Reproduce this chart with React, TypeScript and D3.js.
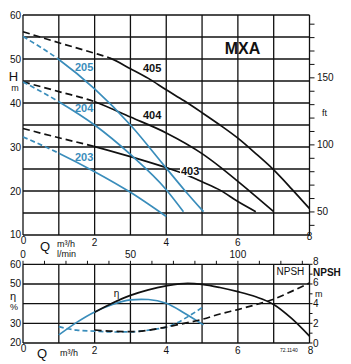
import React from "react";
import * as d3 from "d3";

// ---------- DATA ----------
// Top chart: H (m) vs Q (m³/h)
const q405 = [0, 1, 2, 2.43, 3, 3.5, 4, 4.5, 5, 5.5, 6, 6.5, 7, 7.5, 8];
const h405 = [56.2, 53.7, 51.3, 50.2, 47.8, 45.6, 43, 40.5, 37.8, 35, 32, 28.5, 24.8, 20.5, 16];
const q404 = [0, 1, 2, 3, 4, 5, 5.5, 6, 6.5, 7];
const h404 = [44.8, 42.6, 40.3, 36.8, 33.2, 28.5, 25.5, 22.2, 18.8, 15.3];
const q403 = [0, 1, 2, 3, 4, 4.5, 5, 5.5, 6, 6.5];
const h403 = [34.2, 32.1, 30.1, 27.8, 25.3, 23.9, 22.1, 20.2, 17.6, 15.3];
const q205 = [0, 1, 2, 3, 4, 4.5, 5.04];
const h205 = [55.1, 49.9, 43.2, 35, 25.2, 20.3, 15.3];
const q204 = [0, 1, 2, 3, 4, 4.48];
const h204 = [44.8, 40.3, 35, 28.3, 20.3, 15.3];
const q203 = [0, 1, 2, 3, 4];
const h203 = [32.3, 28.6, 24.4, 19.7, 14.2];

// Bottom chart: efficiency (%) and NPSH (m)
const qEta4 = [2, 2.5, 3, 3.5, 4, 4.6, 5, 5.5, 6, 6.5, 7, 7.5, 8];
const eta4 = [35.6, 40.3, 44.2, 47, 49, 50.3, 49.8, 48.2, 46.1, 43.5, 39.6, 32.5, 23.5];
const qNpsh4 = [2, 2.5, 3, 3.5, 4, 4.5, 5, 5.5, 6, 6.5, 7, 7.5, 8];
const npsh4 = [1.32, 1.2, 1.15, 1.3, 1.62, 2.0, 2.4, 2.95, 3.4, 3.9, 4.45, 5.25, 6.1];
const qEta2 = [1, 1.5, 2, 2.5, 3, 3.3, 3.5, 4, 4.5, 5.04];
const eta2 = [24.1, 30.5, 35.8, 39.6, 41.9, 42.2, 42.1, 40.2, 35.3, 29.2];
const qNpsh2 = [1, 1.5, 2, 2.5, 3, 3.5, 4, 4.25, 4.5, 5.04];
const npsh2 = [1.66, 1.3, 1.2, 1.12, 1.13, 1.3, 1.62, 1.95, 2.45, 3.7];

// Ticks
const qTicks = [0, 2, 4, 6, 8];
const hTicks = [10, 20, 30, 40, 50, 60];
const ftLabels = [50, 100, 150];
const lminLabels = [0, 50, 100];
const etaTicks = [20, 30, 40, 50, 60];
const npshTicks = [0, 2, 4, 6, 8];

// ---------- LAYOUT ----------
const BLACK = "#111";
const BLUE = "#3a8dbb";
const FONT = "'Liberation Sans', Arial, sans-serif";

const X = d3.scaleLinear().domain([0, 8]).range([23, 309.5]);
const YT = d3.scaleLinear().domain([10, 60]).range([235, 15]);
const YB = d3.scaleLinear().domain([20, 60]).range([343, 264.3]);
const YN = d3.scaleLinear().domain([0, 8]).range([343, 264.3]);

function pathOf(qs: number[], vs: number[], y: (v: number) => number) {
  const line = d3
    .line<number>()
    .x((_, i) => X(qs[i]))
    .y((v) => y(v))
    .curve(d3.curveMonotoneX);
  return line(vs) || "";
}

type CurveProps = {
  id: string;
  qs: number[];
  vs: number[];
  y: (v: number) => number;
  color: string;
  split?: number; // dashed up to this Q
  dash?: string;
  allDashed?: boolean;
};

function Curve({ id, qs, vs, y, color, split, dash, allDashed }: CurveProps) {
  const d = pathOf(qs, vs, y);
  if (allDashed) {
    return <path d={d} fill="none" stroke={color} strokeWidth={1.7} strokeDasharray={dash} />;
  }
  if (split === undefined) {
    return <path d={d} fill="none" stroke={color} strokeWidth={1.7} />;
  }
  const sx = X(split);
  return (
    <g>
      <clipPath id={`${id}-a`}>
        <rect x={0} y={0} width={sx} height={364} />
      </clipPath>
      <clipPath id={`${id}-b`}>
        <rect x={sx} y={0} width={351 - sx} height={364} />
      </clipPath>
      <path d={d} fill="none" stroke={color} strokeWidth={1.7} strokeDasharray={dash} clipPath={`url(#${id}-a)`} />
      <path d={d} fill="none" stroke={color} strokeWidth={1.7} clipPath={`url(#${id}-b)`} />
    </g>
  );
}

export default function App() {
  const gridQ = d3.range(0, 9);
  const gridH = d3.range(10, 61, 5);
  const ftMinor = d3.range(40, 200, 10);
  const lminMinor = d3.range(0, 140, 10);
  const gridEta = [30, 40, 50];
  const npshMinor = d3.range(0, 9, 1);
  const ftToY = (f: number) => YT(f / 3.2808);
  const npshLabelY = (n: number) => YN(n) + (n === 8 ? -3 : n === 6 ? -1.5 : 0);

  return (
    <svg
      width={351}
      height={364}
      viewBox="0 0 351 364"
      style={{ position: "absolute", left: 0, top: 0, background: "#fff" }}
      fontFamily={FONT}
    >
      <rect x={0} y={0} width={351} height={364} fill="#fff" />

      {/* ---------- TOP CHART ---------- */}
      <g stroke={BLACK} strokeWidth={1.3}>
        {gridQ.map((q) => (
          <line key={"tv" + q} x1={X(q)} x2={X(q)} y1={YT(60)} y2={YT(10)} />
        ))}
        {gridH.map((h) => (
          <line key={"th" + h} x1={X(0)} x2={X(8)} y1={YT(h)} y2={YT(h)} />
        ))}
        {ftMinor
          .filter((f) => f / 3.2808 >= 10 && f / 3.2808 <= 60)
          .map((f) => (
            <line key={"ft" + f} x1={X(8)} x2={X(8) + 5} y1={ftToY(f)} y2={ftToY(f)} strokeWidth={1} />
          ))}
      </g>

      {/* curves top */}
      <Curve id="c405" qs={q405} vs={h405} y={YT} color={BLACK} split={2.43} dash="7 4" />
      <Curve id="c404" qs={q404} vs={h404} y={YT} color={BLACK} split={2} dash="7 4" />
      <Curve id="c403" qs={q403} vs={h403} y={YT} color={BLACK} split={2} dash="7 4" />
      <Curve id="c205" qs={q205} vs={h205} y={YT} color={BLUE} split={1} dash="5 3" />
      <Curve id="c204" qs={q204} vs={h204} y={YT} color={BLUE} split={1} dash="5 3" />
      <Curve id="c203" qs={q203} vs={h203} y={YT} color={BLUE} split={1} dash="5 3" />

      {/* curve labels */}
      <g fontWeight="bold" fontSize={11}>
        <text x={75} y={67} dy="0.35em" fill={BLUE}>205</text>
        <text x={75} y={108} dy="0.35em" fill={BLUE}>204</text>
        <text x={75} y={157} dy="0.35em" fill={BLUE}>203</text>
        <text x={143} y={68} dy="0.35em" fill={BLACK}>405</text>
        <text x={143} y={115} dy="0.35em" fill={BLACK}>404</text>
        <rect x={180} y={165} width={19} height={11} fill="#fff" />
        <text x={181} y={171} dy="0.35em" fill={BLACK}>403</text>
      </g>

      <text x={242.5} y={48} dy="0.35em" textAnchor="middle" fontWeight="bold" fontSize={16} fill={BLACK}>MXA</text>

      {/* left axis labels top */}
      <g fontSize={10} fill={BLACK} textAnchor="end">
        {hTicks.map((h) => (
          <text key={"hl" + h} x={21} y={YT(h) - (h === 10 ? 1 : 0)} dy="0.35em">{h}</text>
        ))}
      </g>
      <text x={13.5} y={76} dy="0.35em" textAnchor="middle" fontSize={13} fill={BLACK}>H</text>
      <text x={15} y={88} dy="0.35em" textAnchor="middle" fontSize={9} fill={BLACK}>m</text>

      {/* right ft axis */}
      <g fontSize={10} fill={BLACK}>
        {ftLabels.map((f) => (
          <text key={"fl" + f} x={317} y={ftToY(f)} dy="0.35em">{f}</text>
        ))}
        <text x={322} y={113} dy="0.35em" fontSize={9}>ft</text>
      </g>

      {/* x axis labels top chart */}
      <g fontSize={10} fill={BLACK} textAnchor="middle">
        {qTicks.map((q) => (
          <text key={"ql" + q} x={X(q) + (q === 0 ? 0.5 : 0)} y={q === 0 ? 240 : q === 8 ? 236 : 242.5} dy="0.35em">{q}</text>
        ))}
        {lminLabels.map((l) => (
          <text key={"ll" + l} x={X(l * 0.06)} y={254.5} dy="0.35em">{l}</text>
        ))}
      </g>
      <text x={45} y={246.5} dy="0.35em" textAnchor="middle" fontSize={13} fill={BLACK}>Q</text>
      <text x={57} y={243.5} dy="0.35em" fontSize={9} fill={BLACK}>m³/h</text>
      <text x={57} y={254} dy="0.35em" fontSize={9} fill={BLACK}>l/min</text>

      {/* ---------- BOTTOM CHART ---------- */}
      <g stroke={BLACK} strokeWidth={1.3}>
        {gridQ.map((q) => (
          <line key={"bv" + q} x1={X(q)} x2={X(q)} y1={YB(60)} y2={YB(20)} />
        ))}
        {[20, ...gridEta, 60].map((e) => (
          <line key={"bh" + e} x1={X(0)} x2={X(8)} y1={YB(e)} y2={YB(e)} />
        ))}
        {lminMinor.map((l) => (
          <line key={"lt" + l} x1={X(l * 0.06)} x2={X(l * 0.06)} y1={YB(60)} y2={YB(60) - 3.5} strokeWidth={1} />
        ))}
        {npshMinor.map((n) => (
          <line key={"nt" + n} x1={X(8)} x2={X(8) + 3} y1={YN(n)} y2={YN(n)} strokeWidth={1} />
        ))}
      </g>

      <Curve id="e2" qs={qEta2} vs={eta2} y={YB} color={BLUE} />
      <Curve id="n2" qs={qNpsh2} vs={npsh2} y={YN} color={BLUE} allDashed dash="5 3" />
      <Curve id="e4" qs={qEta4} vs={eta4} y={YB} color={BLACK} />
      <Curve id="n4" qs={qNpsh4} vs={npsh4} y={YN} color={BLACK} allDashed dash="7 4" />

      <text x={116.5} y={293.5} dy="0.35em" textAnchor="middle" fontSize={10} fill={BLACK}>η</text>
      <text x={276.5} y={271} dy="0.35em" fontSize={10} fill={BLACK}>NPSH</text>

      {/* left axis bottom */}
      <g fontSize={10} fill={BLACK} textAnchor="end">
        {etaTicks.filter((e) => e !== 40).map((e) => (
          <text key={"el" + e} x={21} y={YB(e) - (e === 20 ? 1 : 0)} dy="0.35em">{e}</text>
        ))}
      </g>
      <text x={13} y={296} dy="0.35em" textAnchor="middle" fontSize={11} fill={BLACK}>η</text>
      <text x={14} y={307} dy="0.35em" textAnchor="middle" fontSize={9} fill={BLACK}>%</text>

      {/* right NPSH axis */}
      <g fontSize={10} fill={BLACK}>
        {npshTicks.map((n) => (
          <text key={"nl" + n} x={313} y={npshLabelY(n)} dy="0.35em">{n}</text>
        ))}
        <text x={313} y={272.5} dy="0.35em" fontWeight="bold" fontSize={10}>NPSH</text>
        <text x={315} y={293.5} dy="0.35em" fontSize={9}>m</text>
      </g>

      {/* bottom x axis */}
      <g fontSize={10} fill={BLACK} textAnchor="middle">
        {qTicks.map((q) => (
          <text key={"bq" + q} x={X(q) + (q === 0 ? 0.5 : q === 8 ? 1 : 0)} y={q === 0 ? 348 : 350} dy="0.35em">{q}</text>
        ))}
      </g>
      <text x={42} y={353.5} dy="0.35em" textAnchor="middle" fontSize={13} fill={BLACK}>Q</text>
      <text x={60} y={352.5} dy="0.35em" fontSize={9} fill={BLACK}>m³/h</text>
      <text x={280} y={350} dy="0.35em" fontSize={5} fill={BLACK}>72.1140</text>
    </svg>
  );
}
